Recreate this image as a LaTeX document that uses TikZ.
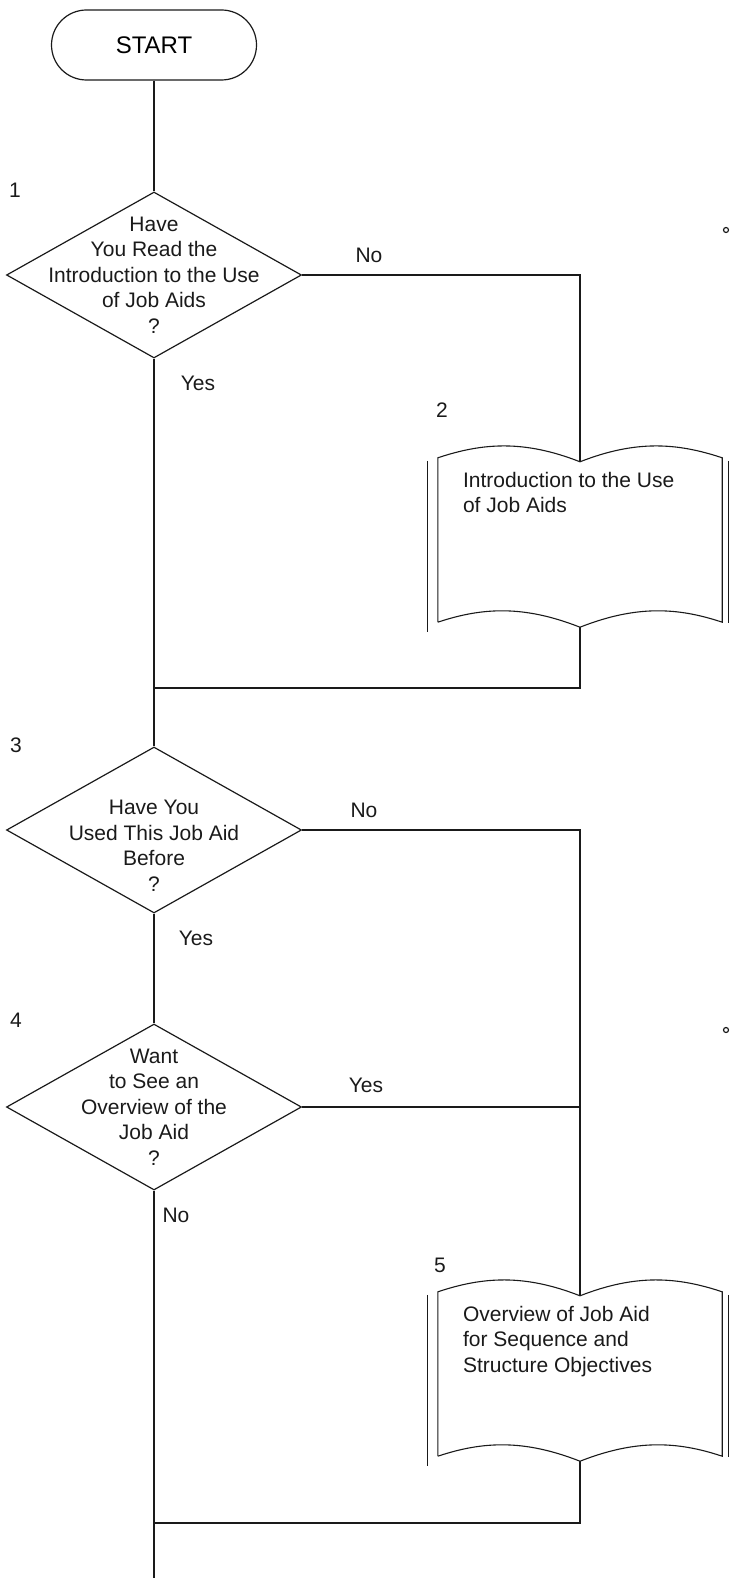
\documentclass[tikz,border=0pt]{standalone}
\usepackage{fontspec}
\setmainfont{Liberation Sans}
\definecolor{ink}{HTML}{1A1A1A}
\usetikzlibrary{shapes.geometric, positioning, calc}
\newcommand{\qfont}{\fontsize{21}{25.5}\selectfont}
\tikzset{
  terminal/.style={draw=ink, line width=1.2pt, rounded corners=35pt, minimum width=205pt,
              minimum height=70pt, font=\fontsize{24}{28}\selectfont},
  decision/.style={draw=ink, line width=1.2pt, diamond, minimum width=295pt,
              minimum height=166pt, inner sep=0pt},
  qtext/.style={align=center, font=\qfont, inner sep=0pt, text=ink},
  bookframe/.style={minimum width=284pt, minimum height=164pt, inner sep=0pt},
  booktext/.style={align=left, font=\qfont, inner sep=0pt, anchor=north west, text=ink},
  flow/.style={line width=1.3pt, color=ink},
  lbl/.style={font=\qfont, inner sep=0pt, text=ink},
}
% open book outline round a bookframe node
\newcommand{\bookpage}[1]{%
  \coordinate (#1-t) at ($(#1.north)+(0,4)$);
  \coordinate (#1-b) at ($(#1.south)+(0,5)$);
  \draw[flow, line width=1.1pt] (#1.south west) -- (#1.north west)
    .. controls +(45,-15) and +(-56,-22) .. (#1-t)
    .. controls +(56,-22) and +(-45,-15) .. (#1.north east) -- (#1.south east)
    .. controls +(-45,-15) and +(56,-22) .. (#1-b)
    .. controls +(-56,-22) and +(45,-15) .. (#1.south west);
  \draw[flow, line width=1.1pt] ($(#1.north west)+(-10,3)$) -- ($(#1.south west)+(-10,10)$);
  \draw[flow, line width=1.1pt] ($(#1.north east)+(6,3)$) -- ($(#1.south east)+(6,1)$);
}

\begin{document}
\begin{tikzpicture}[x=1pt, y=-1pt]
  \useasboundingbox (0,0) rectangle (731,1578);
  \node[terminal] (start) at (154,45) {START};
  \node[decision, label={[qtext]center:{Have\\You Read the\\Introduction to the Use\\of Job Aids\\?}}] (d1) at (154,275) {};
  \node[bookframe] (b2) at (580,540) {};
  \node[booktext] (b2txt) at ($(b2.north west)+(25,14)$) {Introduction to the Use\\of Job Aids};
  \node[decision, label={[qtext, yshift=-16pt]center:{Have You\\Used This Job Aid\\Before\\?}}] (d3) at (154,830) {};
  \node[decision, label={[qtext]center:{Want\\to See an\\Overview of the\\Job Aid\\?}}] (d4) at (154,1107) {};
  \node[bookframe] (b5) at (580,1374) {};
  \node[booktext] (b5txt) at ($(b5.north west)+(25,14)$) {Overview of Job Aid\\for Sequence and\\Structure Objectives};
  \bookpage{b2}
  \bookpage{b5}
  \foreach \n/\x/\y in {1/15/190, 2/442/410, 3/16/745, 4/16/1020, 5/440/1265}
    \node[lbl] (n\n) at (\x,\y) {\n};
  \node[lbl] (no1) at (369,255) {No};
  \node[lbl] (yes1) at (198,383) {Yes};
  \node[lbl] (no3) at (364,810) {No};
  \node[lbl] (yes3) at (196,938) {Yes};
  \node[lbl] (yes4) at (366,1085) {Yes};
  \node[lbl] (no4) at (176,1215) {No};
  \coordinate (m1) at (154,688);
  \coordinate (m2) at (154,1523);
  \coordinate (bottom) at (154,1578);
  \draw[flow] (start) -- (d1);
  \draw[flow] (d1.east) -| (b2-t);
  \draw[flow] (d1.south) -- (d3.north);
  \draw[flow] (b2-b) |- (m1);
  \draw[flow] (d3.east) -| (b5-t);
  \draw[flow] (d3.south) -- (d4.north);
  \draw[flow] (d4.east) -- (d4.east -| b5-t);
  \draw[flow] (d4.south) -- (bottom);
  \draw[flow] (b5-b) |- (m2);
  \foreach \y in {230,1030} \draw[ink, line width=1.2pt] (726,\y) circle (2.5pt);
\end{tikzpicture}
\end{document}
